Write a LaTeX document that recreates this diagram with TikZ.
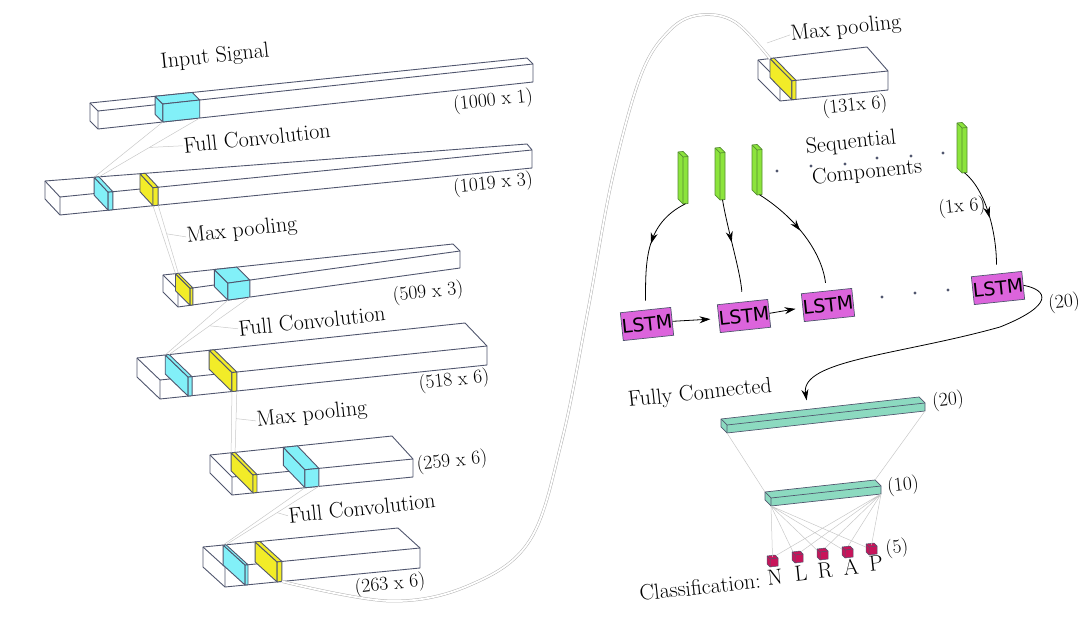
\documentclass[tikz,border=0pt]{standalone}
\usepackage{fontspec}
\newfontfamily\lstmfont{DejaVu Sans}
\usepackage{tikz}
\usetikzlibrary{arrows.meta, calc, decorations.markings}
\usepackage{xcolor}
\definecolor{edgegray}{RGB}{80, 86, 110}
\definecolor{linkgray}{RGB}{200, 200, 200}
\definecolor{convcyan}{RGB}{130, 240, 248}
\definecolor{poolyellow}{RGB}{242, 236, 40}
\definecolor{seqgreen}{RGB}{140, 228, 60}
\definecolor{seqedge}{RGB}{85, 140, 50}
\definecolor{lstmpink}{RGB}{220, 100, 220}
\definecolor{densegreen}{RGB}{140, 218, 192}
\definecolor{outred}{RGB}{200, 20, 90}

% box: name, front-bottom-left, front-bottom-right, height, depth left, depth right, style
\newcommand{\convbox}[7]{%
  \coordinate (#1-A) at (#2);
  \coordinate (#1-B) at (#3);
  \coordinate (#1-D) at ($(#1-A)+(0,-#4)$);
  \coordinate (#1-C) at ($(#1-B)+(0,-#4)$);
  \coordinate (#1-a) at ($(#1-A)+(#5)$);
  \coordinate (#1-d) at ($(#1-D)+(#5)$);
  \coordinate (#1-b) at ($(#1-B)+(#6)$);
  \coordinate (#1-c) at ($(#1-C)+(#6)$);
  \coordinate (#1-s) at ($(#1-A)!0.5!(#1-B)$);
  \coordinate (#1-t) at ($(#1-D)!0.5!(#1-c)$);
  \filldraw[#7] (#1-A) -- (#1-B) -- (#1-C) -- (#1-c) -- (#1-d) -- (#1-a) -- cycle;
  \draw[#7, fill=none] (#1-A) -- (#1-D) -- (#1-C) (#1-D) -- (#1-d);
}
% slab cut out of a box: box, name, from, to, style
\newcommand{\convslab}[5]{%
  \coordinate (#2-A) at ($(#1-A)!#3!(#1-B)$);
  \coordinate (#2-B) at ($(#1-A)!#4!(#1-B)$);
  \coordinate (#2-D) at ($(#1-D)!#3!(#1-C)$);
  \coordinate (#2-C) at ($(#1-D)!#4!(#1-C)$);
  \coordinate (#2-a) at ($(#1-a)!#3!(#1-b)$);
  \coordinate (#2-d) at ($(#1-d)!#3!(#1-c)$);
  \coordinate (#2-c) at ($(#1-d)!#4!(#1-c)$);
  \filldraw[#5] (#2-A) -- (#2-D) -- (#2-d) -- (#2-a) -- cycle;
  \filldraw[#5] (#2-D) -- (#2-C) -- (#2-c) -- (#2-d) -- cycle;
  \filldraw[#5] (#2-A) -- (#2-B) -- (#2-C) -- (#2-D) -- cycle;
}

\begin{document}
\begin{tikzpicture}[
    x=1pt, y=-1pt,
    box/.style={draw=edgegray, line width=0.9pt, fill=white, line join=round},
    cyanslab/.style={box, fill=convcyan},
    yellowslab/.style={box, fill=poolyellow},
    seqplate/.style={draw=seqedge, line width=0.7pt, fill=seqgreen, line join=round},
    densebar/.style={draw=edgegray, line width=0.7pt, fill=densegreen, line join=round},
    cube/.style={draw=edgegray, line width=0.5pt, fill=outred, line join=round},
    lbl/.style={font=\fontsize{22}{24}\selectfont, rotate=6, inner sep=0.5pt},
    dim/.style={lbl, font=\fontsize{19.5}{22}\selectfont},
    lstm/.style={draw=edgegray, fill=lstmpink, line width=0.7pt,
                 minimum width=48pt, minimum height=28pt, inner sep=0pt,
                 font=\lstmfont\fontsize{19}{19}\selectfont, rotate=6},
    link/.style={draw=linkgray, line width=0.5pt},
    pipe/.style={draw=linkgray!90!black, double=white, double distance=1.8pt, line width=0.5pt},
    arrow/.style={-{Stealth[length=11pt, width=7pt]}, line width=0.8pt},
    midarrow/.style={line width=0.8pt, postaction={decorate},
      decoration={markings, mark=at position #1 with {\arrow{Stealth[length=11pt, width=7pt]}}}},
  ]
    \useasboundingbox (0,0) rectangle (1089,617);

    % Input signal
    \convbox{in}{98,129}{533,82}{18}{-8,-8}{-6,-6}{box}
    \convslab{in}{inc}{0.149}{0.234}{cyanslab}
    \node[lbl] (tin) at (215,57) {Input Signal};
    \node[dim] (din) at (493,101) {(1000 x 1)};

    % Convolution 1
    \convbox{cv1}{60,215}{532,168}{18}{-15,-16}{-5,-6}{box}
    \convslab{cv1}{c1c}{0.102}{0.112}{cyanslab}
    \convslab{cv1}{c1y}{0.197}{0.208}{yellowslab}
    \draw[link] (inc-A) -- (c1c-d) (inc-B) -- (c1c-c);
    \node[lbl] (tfc1) at (257,138) {Full Convolution};
    \draw[link] (tfc1.west) -- ($(inc-B)!0.5!(c1c-c)$);
    \node[dim] (dfc1) at (493,184) {(1019 x 3)};

    % Pooling 1
    \convbox{mp1}{178,307}{460,268}{17}{-15,-15}{-7,-7}{box}
    \convslab{mp1}{m1y}{0.043}{0.053}{yellowslab}
    \convslab{mp1}{m1c}{0.177}{0.255}{cyanslab}
    \draw[link] (c1y-A) -- (m1y-d) (c1y-B) -- (m1y-c);
    \node[lbl] (tmp1) at (242,231) {Max pooling};
    \draw[link] (tmp1.west) -- ($(c1y-B)!0.42!(m1y-c)$);
    \node[dim] (dmp1) at (428,293) {(509 x 3)};

    % Convolution 2
    \convbox{cv2}{160,399}{487,365}{19}{-23,-22}{-22,-23}{box}
    \convslab{cv2}{c2c}{0.086}{0.098}{cyanslab}
    \convslab{cv2}{c2y}{0.22}{0.235}{yellowslab}
    \draw[link] (m1c-A) -- (c2c-d) (m1c-B) -- (c2c-c);
    \node[lbl] (tfc2) at (312,321) {Full Convolution};
    \draw[link] (tfc2.west) -- ($(m1c-B)!0.5!(c2c-c)$);
    \node[dim] (dfc2) at (454,381) {(518 x 6)};

    % Pooling 2
    \convbox{mp2}{232,495}{413,477}{18}{-22,-22}{-21,-23}{box}
    \convslab{mp2}{m2y}{0.116}{0.138}{yellowslab}
    \convslab{mp2}{m2c}{0.403}{0.48}{cyanslab}
    \draw[link] (c2y-A) -- (m2y-d) (c2y-B) -- (m2y-c);
    \node[lbl] (tmp2) at (312,415) {Max pooling};
    \draw[link] (tmp2.west) -- ($(c2y-B)!0.45!(m2y-c)$);
    \node[dim] (dmp2) at (452,462) {(259 x 6)};

    % Convolution 3
    \convbox{cv3}{225,587}{420,568}{20}{-22,-20}{-22,-20}{box}
    \convslab{cv3}{c3c}{0.103}{0.118}{cyanslab}
    \convslab{cv3}{c3y}{0.267}{0.292}{yellowslab}
    \draw[link] (m2c-A) -- (c3c-d) (m2c-B) -- (c3c-c);
    \node[lbl] (tfc3) at (362,508) {Full Convolution};
    \draw[link] (tfc3.west) -- ($(m2c-B)!0.45!(c3c-c)$);
    \node[dim] (dfc3) at (390,585) {(263 x 6)};

    % Pooling 3
    \convbox{mp3}{780,101}{888,90}{19}{-22,-22}{-21,-24}{box}
    \convslab{mp3}{m3y}{0.11}{0.148}{yellowslab}
    \draw[pipe] plot[smooth, tension=0.6] coordinates {(c3y-B) (390,601) (470,585)
      (530,540) (562,440) (588,310) (612,180) (641,75) (670,30) (700,15) (735,22) (m3y-d)};
    \node[lbl] (tmp3) at (846,29) {Max pooling};
    \coordinate (lead3) at (767,43);
    \draw[link] (tmp3.west) -- (lead3);
    \node[dim] (dmp3) at (855,106) {(131x 6)};

    % Sequential components
    \convbox{g1}{683,204}{688,203.5}{47}{-5,-5}{-5,-5}{seqplate}
    \convbox{g2}{720,200}{725,199.5}{47}{-5,-5}{-5,-5}{seqplate}
    \convbox{g3}{757,195}{762,194.5}{45}{-5,-5}{-5,-5}{seqplate}
    \convbox{g4}{962,173}{967,172.5}{45}{-5,-5}{-5,-5}{seqplate}
    \fill[edgegray] (777,171) circle (1.7) (811,166) circle (1.7) (845,164) circle (1.7)
      (877,158) circle (1.7) (911,156) circle (1.7) (943,153) circle (1.7);
    \node[lbl] (tseq1) at (851,143) {Sequential};
    \node[lbl] (tseq2) at (867,173) {Components};
    \node[dim] (dseq) at (962,207) {(1x 6)};

    % LSTM chain
    \node[lstm] (l1) at (647,324) {LSTM};
    \node[lstm] (l2) at (744,316) {LSTM};
    \node[lstm] (l3) at (828,305) {LSTM};
    \node[lstm] (l4) at (998,288) {LSTM};
    \fill[edgegray] (882,297) circle (1.7) (915,293) circle (1.7) (948,290) circle (1.7);
    \draw[arrow, shorten >=8pt] (l1.east) -- (l2.west);
    \draw[arrow, shorten >=7pt] (l2.east) -- (l3.west);
    \draw[midarrow=0.45, shorten >=9pt] (g1-s) .. controls +(-40,20) and +(0,-50) .. (l1.north);
    \draw[midarrow=0.42, shorten >=10pt] (g2-s) .. controls +(5,30) and +(-2,-30) .. (l2.north);
    \draw[midarrow=0.45, shorten >=8pt] (g3-s) .. controls +(35,22) and +(-5,-40) .. (l3.north);
    \draw[midarrow=0.48, shorten >=9pt] (g4-s) .. controls +(22,18) and +(0,-40) .. (l4.north);

    % Fully connected
    \convbox{dn1}{727,433}{925,411}{8}{-6,-6}{-6,-6}{densebar}
    \node[lbl] (tfd) at (700,394) {Fully Connected};
    \node[dim] (dfd1) at (948,401) {(20)};
    \coordinate (fdin) at ($(dn1-d)!0.44!(dn1-c)$);
    \draw[arrow, shorten >=9pt] (l4.east) .. controls (1048,290) and (1055,305) .. (1000,327)
      .. controls (900,355) and (800,360) .. (fdin);
    \node[dim] (dlstm) at (1064,303) {(20)};

    \convbox{dn2}{771,506}{881,494}{8}{-6,-6}{-6,-6}{densebar}
    \draw[link] (dn1-A) -- (dn2-d) (dn1-B) -- (dn2-c);
    \node[dim] (dfd2) at (903,486) {(10)};

    % Output classes
    \draw[link] (dn2-A) -- (795,556) (dn2-A) -- (820,553) (dn2-A) -- (845,551) (dn2-A) -- (868,548)
      (dn2-B) -- (770,559) (dn2-B) -- (795,556) (dn2-B) -- (820,553) (dn2-B) -- (845,551);
    \convbox{o1}{770,567}{778,566}{8}{-3,-3}{-3,-3}{cube}
    \convbox{o2}{795,563}{803,562}{8}{-3,-3}{-3,-3}{cube}
    \convbox{o3}{820,560}{828,559}{8}{-3,-3}{-3,-3}{cube}
    \convbox{o4}{845,558}{853,557}{8}{-3,-3}{-3,-3}{cube}
    \convbox{o5}{869,555}{877,554}{8}{-3,-3}{-3,-3}{cube}
    \draw[link] (dn2-A) -- (o1-t) (dn2-B) -- (o5-t);
    \node[dim] (dout) at (897,548) {(5)};
    \node[lbl] (tcls) at (700,587) {Classification:};
    \node[lbl] (cn) at (775,577) {N};
    \node[lbl] (cl) at (801,573) {L};
    \node[lbl] (cr) at (825,570) {R};
    \node[lbl] (ca) at (851,567) {A};
    \node[lbl] (cp) at (876,563) {P};
\end{tikzpicture}
\end{document}
